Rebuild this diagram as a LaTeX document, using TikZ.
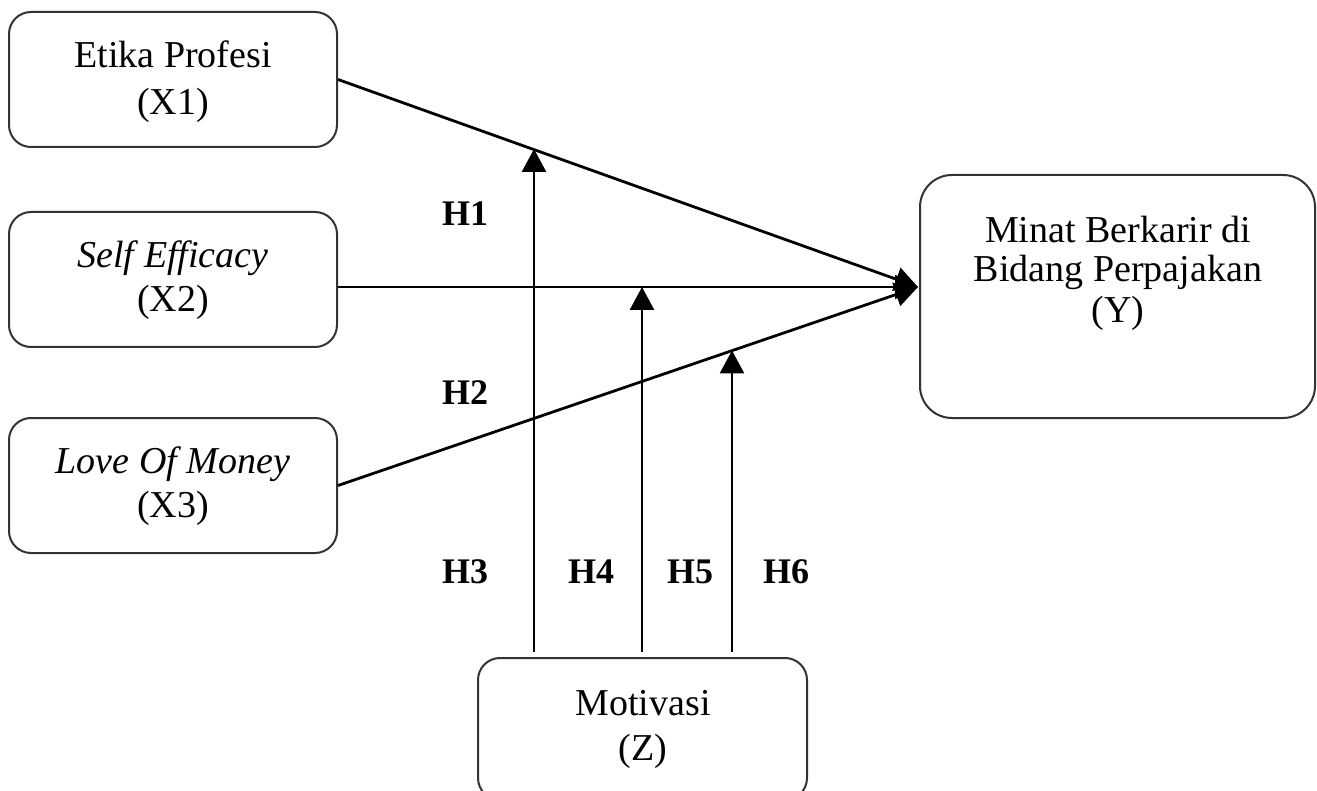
\documentclass[tikz,border=0pt]{standalone}
\usepackage{fontspec}
\setmainfont{Liberation Serif}
\usetikzlibrary{arrows.meta}
\begin{document}
\begin{tikzpicture}[x=1pt,y=-1pt,
  box/.style={draw=black!80, line width=2pt, rounded corners=22pt, inner sep=0pt},
  txt/.style={font=\fontsize{38}{44}\selectfont, anchor=base, inner sep=0pt},
  hlab/.style={font=\fontsize{36}{40}\selectfont\bfseries, anchor=base west, inner sep=0pt},
  link/.style={line width=2.8pt, -{Triangle[length=23pt,width=24pt]}}]
\useasboundingbox (0,0) rectangle (1317,791);
% boxes
\node[box, minimum width=328pt, minimum height=135pt] (x1) at (173,79.5) {};
\node[box, minimum width=328pt, minimum height=135pt] (x2) at (173,279.5) {};
\node[box, minimum width=328pt, minimum height=135pt] (x3) at (173,485.5) {};
\node[box, rounded corners=32pt, minimum width=395pt, minimum height=243pt] (y) at (1117.5,296.5) {};
\node[box, minimum width=329pt, minimum height=142pt] (z) at (642.5,729) {};
% texts
\node[txt] (x1a) at (173,68) {Etika Profesi};
\node[txt] (x1b) at (173,115) {(X1)};
\node[txt] (x2a) at (173,268) {\textit{Self Efficacy}};
\node[txt] (x2b) at (173,312) {(X2)};
\node[txt] (x3a) at (173,473) {\textit{Love Of Money}};
\node[txt] (x3b) at (173,517) {(X3)};
\node[txt] (ya) at (1118,243) {Minat Berkarir di};
\node[txt] (yb) at (1118,282) {Bidang Perpajakan};
\node[txt] (yc) at (1118,323) {(Y)};
\node[txt] (za) at (643,715) {Motivasi};
\node[txt] (zb) at (643,760) {(Z)};
% labels
\node[hlab] (h1) at (442,226) {H1};
\node[hlab] (h2) at (442,404) {H2};
\node[hlab] (h3) at (442,583) {H3};
\node[hlab] (h4) at (568,583) {H4};
\node[hlab] (h5) at (667,583) {H5};
\node[hlab] (h6) at (763,583) {H6};
% coordinates
\coordinate (ytip) at (918,287);
\coordinate (t1) at (534,149);
\coordinate (t2) at (642,287);
\coordinate (t3) at (732,350.5);
\coordinate (b1) at (534,652);
\coordinate (b2) at (642,652);
\coordinate (b3) at (732,652);
% connectors
\draw[link] (x1.east) -- (ytip);
\draw[link] (x2.east |- ytip) -- (ytip);
\draw[link] (x3.east) -- (ytip);
\draw[link] (b1) -- (t1);
\draw[link] (b2) -- (t2);
\draw[link] (b3) -- (t3);
\end{tikzpicture}
\end{document}
